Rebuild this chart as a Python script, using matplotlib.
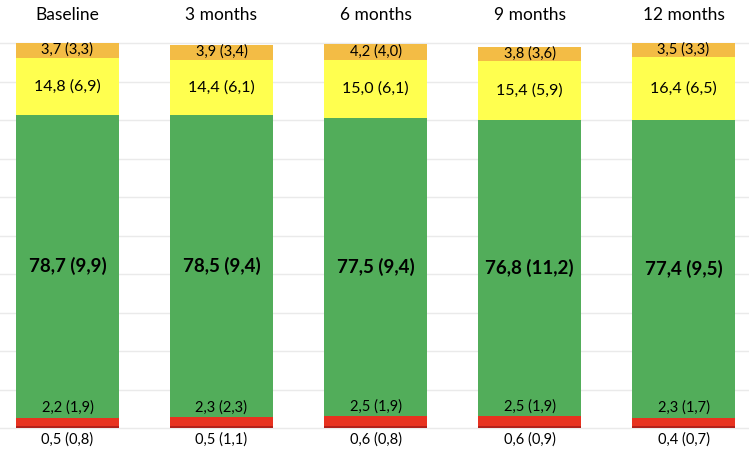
import numpy as np
import matplotlib.pyplot as plt

plt.rcParams['font.family'] = ['Lato', 'DejaVu Sans']

# data (mean, sd) per timepoint, bottom segment first
timepoints = ['Baseline', '3 months', '6 months', '9 months', '12 months']
darkred_mean = [0.5, 0.5, 0.6, 0.6, 0.4]
darkred_sd = [0.8, 1.1, 0.8, 0.9, 0.7]
red_mean = [2.2, 2.3, 2.5, 2.5, 2.3]
red_sd = [1.9, 2.3, 1.9, 1.9, 1.7]
green_mean = [78.7, 78.5, 77.5, 76.8, 77.4]
green_sd = [9.9, 9.4, 9.4, 11.2, 9.5]
yellow_mean = [14.8, 14.4, 15.0, 15.4, 16.4]
yellow_sd = [6.9, 6.1, 6.1, 5.9, 6.5]
orange_mean = [3.7, 3.9, 4.2, 3.8, 3.5]
orange_sd = [3.3, 3.4, 4.0, 3.6, 3.3]

def fmt(m, s):
    return f"{m:.1f} ({s:.1f})".replace('.', ',')

fig = plt.figure(figsize=(7.49, 4.54), dpi=100)
ax = fig.add_axes([0, 0, 1, 1])

x = np.arange(len(timepoints))
w = 0.67
segments = [
    (darkred_mean, '#B3201A'),
    (red_mean, '#E8321F'),
    (green_mean, '#52AD5A'),
    (yellow_mean, '#FFFF4F'),
    (orange_mean, '#F3BC45'),
]
bottom = np.zeros(len(x))
bottoms = []
for vals, col in segments:
    bottoms.append(bottom.copy())
    ax.bar(x, vals, w, bottom=bottom, color=col, edgecolor='none', zorder=2)
    bottom = bottom + np.array(vals)

# gridlines
for gy in np.arange(0, 101, 10):
    ax.axhline(gy, color='#EAEAEA', lw=1, zorder=1)

for i in range(len(x)):
    # dark red label below bar
    ax.text(x[i], -3.0, fmt(darkred_mean[i], darkred_sd[i]), ha='center', va='center', fontsize=10.5)
    # red label just above red segment
    ax.text(x[i], bottoms[2][i] + 2.5, fmt(red_mean[i], red_sd[i]), ha='center', va='center', fontsize=10.5)
    # green label
    ax.text(x[i], bottoms[2][i] + green_mean[i] / 2, fmt(green_mean[i], green_sd[i]),
            ha='center', va='center', fontsize=13.5, fontweight='bold')
    # yellow label
    ax.text(x[i], bottoms[3][i] + yellow_mean[i] / 2, fmt(yellow_mean[i], yellow_sd[i]),
            ha='center', va='center', fontsize=11.5)
    # orange label
    ax.text(x[i], bottoms[4][i] + orange_mean[i] / 2 + 0.2, fmt(orange_mean[i], orange_sd[i]),
            ha='center', va='center', fontsize=10.5)
    # category header
    ax.text(x[i], 107.3, timepoints[i], ha='center', va='center', fontsize=12.5)

ax.set_xlim(-0.438, 4.425)
ax.set_ylim(-6.75, 111.2)
ax.axis('off')

fig.savefig('out.png', dpi=100)
